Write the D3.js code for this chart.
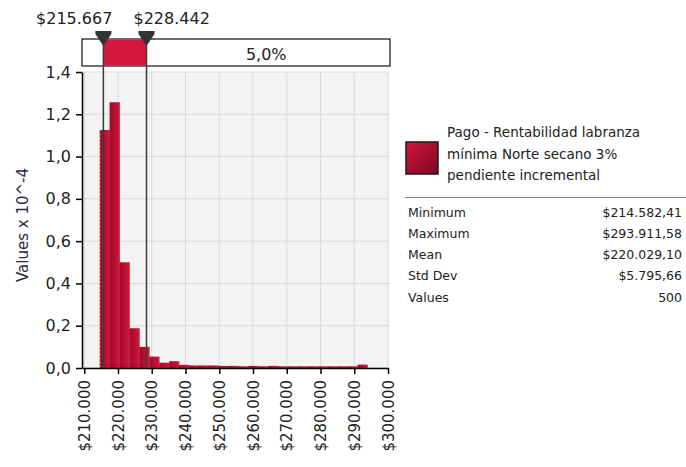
<!DOCTYPE html>
<html><head><meta charset="utf-8">
<script src="https://cdn.jsdelivr.net/npm/d3@7"></script>
<style>
body{margin:0;background:#fff;}
svg{display:block;font-family:"DejaVu Sans",Verdana,sans-serif;}
</style></head>
<body><svg id="c" width="686" height="467"></svg>
<script>
// ---- data ----
const binEdges = [214582,217520,220458,223396,226334,229272,232210,235148,238086,241024,243962,246900,249838,252776,255714,258652,261590,264528,267466,270404,273342,276280,279218,282156,285094,288032,290970,293908];
const density = [1.126,1.257,0.500,0.188,0.100,0.054,0.025,0.032,0.015,0.012,0.012,0.012,0.010,0.010,0.008,0.010,0.008,0.010,0.008,0.008,0.008,0.008,0.008,0.008,0.008,0.008,0.016];
const xTicks = [210000,220000,230000,240000,250000,260000,270000,280000,290000,300000];
const yTicks = [0,0.2,0.4,0.6,0.8,1.0,1.2,1.4];
const markers = [215667,228442];
const markerLabels = ["$215.667","$228.442"];
const bandLabel = "5,0%";
const yTitle = "Values x 10^-4";
const legendLines = ["Pago - Rentabilidad labranza","mínima Norte secano 3%","pendiente incremental"];
const statNames = ["Minimum","Maximum","Mean","Std Dev","Values"];
const statValues = ["$214.582,41","$293.911,58","$220.029,10","$5.795,66","500"];

// ---- layout ----
const svg = d3.select("#c");
const L=82, R=389, T=72, B=368;
const x = d3.scaleLinear().domain([209333,300000]).range([82,388]);
const y = d3.scaleLinear().domain([0,1.4]).range([B,T]);

const defs = svg.append("defs");
const g1 = defs.append("linearGradient").attr("id","barG").attr("x1",0).attr("y1",0).attr("x2",1).attr("y2",0);
g1.append("stop").attr("offset","0%").attr("stop-color","#9c0a28");
g1.append("stop").attr("offset","100%").attr("stop-color","#d3163c");
const g2 = defs.append("linearGradient").attr("id","legG").attr("x1",0).attr("y1",0).attr("x2",1).attr("y2",1);
g2.append("stop").attr("offset","0%").attr("stop-color","#d6163e");
g2.append("stop").attr("offset","100%").attr("stop-color","#7c0820");

// plot background
svg.append("rect").attr("x",L).attr("y",T).attr("width",R-L).attr("height",B-T).attr("fill","#f3f3f3");
// grid
svg.append("g").selectAll("line").data(xTicks).join("line")
  .attr("x1",d=>x(d)).attr("x2",d=>x(d)).attr("y1",T).attr("y2",B)
  .attr("stroke","#d9d9d9").attr("stroke-width",1);
svg.append("g").selectAll("line").data(yTicks).join("line")
  .attr("x1",L).attr("x2",R).attr("y1",d=>y(d)).attr("y2",d=>y(d))
  .attr("stroke","#d9d9d9").attr("stroke-width",1);

// bars
const bins = density.map((v,i)=>({x0:binEdges[i],x1:binEdges[i+1],v}));
svg.append("g").selectAll("rect").data(bins).join("rect")
  .attr("x",d=>x(d.x0)).attr("width",d=>x(d.x1)-x(d.x0)+0.3)
  .attr("y",d=>y(d.v)).attr("height",d=>y(0)-y(d.v))
  .attr("fill","url(#barG)");
// faint dashed edge on the first bar
svg.append("line").datum(bins[0])
  .attr("x1",d=>x(d.x0)+0.5).attr("x2",d=>x(d.x0)+0.5)
  .attr("y1",d=>y(d.v)).attr("y2",y(0))
  .attr("stroke","#fff").attr("stroke-width",1).attr("stroke-dasharray","1,3").attr("opacity",0.6);

// axes
const yAxis = svg.append("g").attr("transform",`translate(${L},0)`)
  .call(d3.axisLeft(y).tickValues(yTicks).tickSize(6).tickSizeOuter(0).tickPadding(5)
    .tickFormat(d=>d3.format(".1f")(d).replace(".",",")));
yAxis.select(".domain").attr("stroke","#000").attr("stroke-width",1.5);
yAxis.selectAll(".tick line").attr("stroke","#000").attr("stroke-width",1.5);
yAxis.selectAll("text").attr("font-size",16).attr("fill","#222").attr("font-family","DejaVu Sans");

const xAxis = svg.append("g").attr("transform",`translate(0,${B})`)
  .call(d3.axisBottom(x).tickValues(xTicks).tickSize(6).tickSizeOuter(0)
    .tickFormat(d=>"$"+d3.format(",")(d).replace(/,/g,".")));
xAxis.select(".domain").attr("stroke","#000").attr("stroke-width",1.5);
xAxis.selectAll(".tick line").attr("stroke","#000").attr("stroke-width",1.5);
xAxis.selectAll("text").attr("font-size",15).attr("fill","#222").attr("font-family","DejaVu Sans")
  .attr("text-anchor","end").attr("dy",null).attr("y",0)
  .attr("transform","translate(5,12) rotate(-90)");

// y title
svg.append("text").attr("transform","translate(28,225) rotate(-90)")
  .attr("text-anchor","middle").attr("font-size",15).attr("fill","#2a2a3a").text(yTitle);

// band
const bandT=39, bandB=66, bandR=390;
svg.append("rect").attr("x",L).attr("y",bandT).attr("width",bandR-L).attr("height",bandB-bandT)
  .attr("fill","#fff").attr("stroke","#111").attr("stroke-width",1.2);
svg.append("rect").attr("x",x(markers[0])).attr("y",bandT+0.6).attr("width",x(markers[1])-x(markers[0]))
  .attr("height",bandB-bandT-1.2).attr("fill","#d8173c");
svg.append("text").attr("x",(x(markers[1])+bandR)/2-2).attr("y",60).attr("text-anchor","middle")
  .attr("font-size",16).attr("fill","#222").text(bandLabel);

// marker lines
svg.append("g").selectAll("line").data(markers).join("line")
  .attr("x1",d=>x(d)).attr("x2",d=>x(d)).attr("y1",bandT).attr("y2",B)
  .attr("stroke","#3c3c3c").attr("stroke-width",1.5);
// marker triangles
svg.append("g").selectAll("path").data(markers).join("path")
  .attr("d",d=>{const c=x(d);return `M${c-8},31 L${c+8},31 L${c+8},34 L${c},46 L${c-8},34 Z`;})
  .attr("fill","#333");
// marker labels
svg.append("text").attr("x",x(markers[0])+9).attr("y",24).attr("text-anchor","end")
  .attr("font-size",16).attr("fill","#222").text(markerLabels[0]);
svg.append("text").attr("x",x(markers[1])-13).attr("y",24).attr("text-anchor","start")
  .attr("font-size",16).attr("fill","#222").text(markerLabels[1]);

// legend
svg.append("rect").attr("x",406).attr("y",142).attr("width",32).attr("height",32)
  .attr("fill","url(#legG)").attr("stroke","#1a1a1a").attr("stroke-width",1.5);
svg.append("g").selectAll("text").data(legendLines).join("text")
  .attr("x",447).attr("y",(d,i)=>137+i*21.5).attr("font-size",13.5).attr("fill","#222").text(d=>d);
svg.append("line").attr("x1",405).attr("x2",686).attr("y1",197.5).attr("y2",197.5)
  .attr("stroke","#888").attr("stroke-width",1.2);
svg.append("g").selectAll("text").data(statNames).join("text")
  .attr("x",408).attr("y",(d,i)=>216.5+i*21.3).attr("font-size",12.5).attr("fill","#222").text(d=>d);
svg.append("g").selectAll("text").data(statValues).join("text")
  .attr("x",682).attr("y",(d,i)=>216.5+i*21.3).attr("text-anchor","end").attr("font-size",12.5).attr("fill","#222").text(d=>d);
</script></body></html>
